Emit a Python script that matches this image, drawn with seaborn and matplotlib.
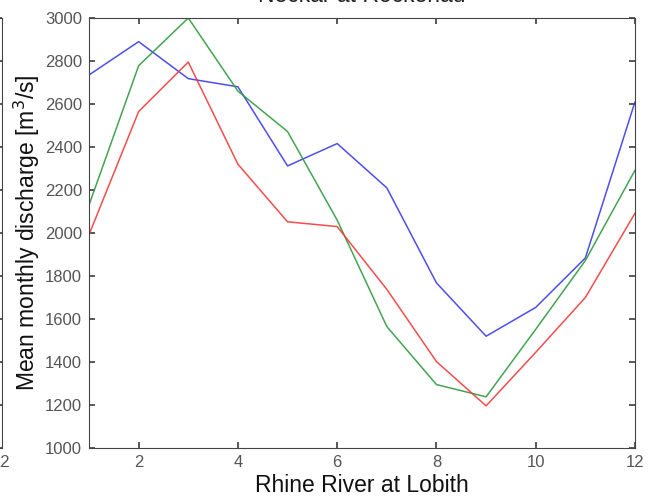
import numpy as np
import pandas as pd
import matplotlib
matplotlib.use("Agg")
import matplotlib.pyplot as plt
import seaborn as sns

months = [1, 2, 3, 4, 5, 6, 7, 8, 9, 10, 11, 12]
series_blue = [2735, 2890, 2718, 2680, 2312, 2416, 2210, 1768, 1520, 1654, 1884, 2610]
series_green = [2130, 2778, 3000, 2660, 2472, 2060, 1565, 1295, 1238, 1552, 1872, 2292]
series_red = [1992, 2565, 2795, 2320, 2052, 2030, 1738, 1402, 1196, 1445, 1700, 2092]
series_names = ["blue", "green", "red"]
line_colors = {"blue": "#3b3bea", "green": "#2f9a3f", "red": "#f03a3a"}

df = pd.DataFrame({
    "month": months * 3,
    "discharge": series_blue + series_green + series_red,
    "series": [series_names[0]] * 12 + [series_names[1]] * 12 + [series_names[2]] * 12,
})

sns.set_theme(style="white")
plt.rcParams["font.family"] = ["Liberation Sans", "DejaVu Sans"]

W, H = 650, 497
fig = plt.figure(figsize=(6.5, 4.97), dpi=100)
ax_bottom = (H - 448) / H
ax_height = (448 - 18) / H

# neighbouring subplot edge (cropped at the left border)
ax0 = fig.add_axes([-0.8, ax_bottom, 0.8 + 1.5 / W, ax_height])
ax0.set_xlim(1, 12)
ax0.set_ylim(0, 1)
ax0.set_xticks([12])
ax0.set_xticklabels(["12"], fontsize=12, color="#555555")
ax0.set_yticks(np.linspace(0, 1, 11))
ax0.set_yticklabels([])
ax0.tick_params(direction="in", length=4, color="#444444", right=True, left=False, pad=5)
for s in ax0.spines.values():
    s.set_color("#444444")
    s.set_linewidth(0.8)

ax = fig.add_axes([89 / W, ax_bottom, (635 - 89) / W, ax_height])
sns.lineplot(data=df, x="month", y="discharge", hue="series", palette=line_colors,
             legend=False, ax=ax, linewidth=1.1, alpha=0.9)

ax.set_xlim(1, 12)
ax.set_ylim(1000, 3000)
ax.set_xticks([2, 4, 6, 8, 10, 12])
ax.set_yticks(np.arange(1000, 3001, 200))
ax.tick_params(direction="in", length=4, color="#444444", labelsize=12,
               labelcolor="#555555", top=True, right=True, bottom=True, left=True, pad=5)
for s in ax.spines.values():
    s.set_color("#444444")
    s.set_linewidth(0.8)
ax.set_xlabel("Rhine River at Lobith", fontsize=16.5, color="#111111", labelpad=3)
ax.set_ylabel("Mean monthly discharge [m$^3$/s]", fontsize=16.5, color="#111111", labelpad=2)

# title, cropped at the top edge as in the reference
fig.text(362 / W, 1 - 1.5 / H, "Neckar at Rockenau", ha="center", va="baseline",
         fontsize=16.5, color="#222222")

fig.savefig("out.png", dpi=100)
